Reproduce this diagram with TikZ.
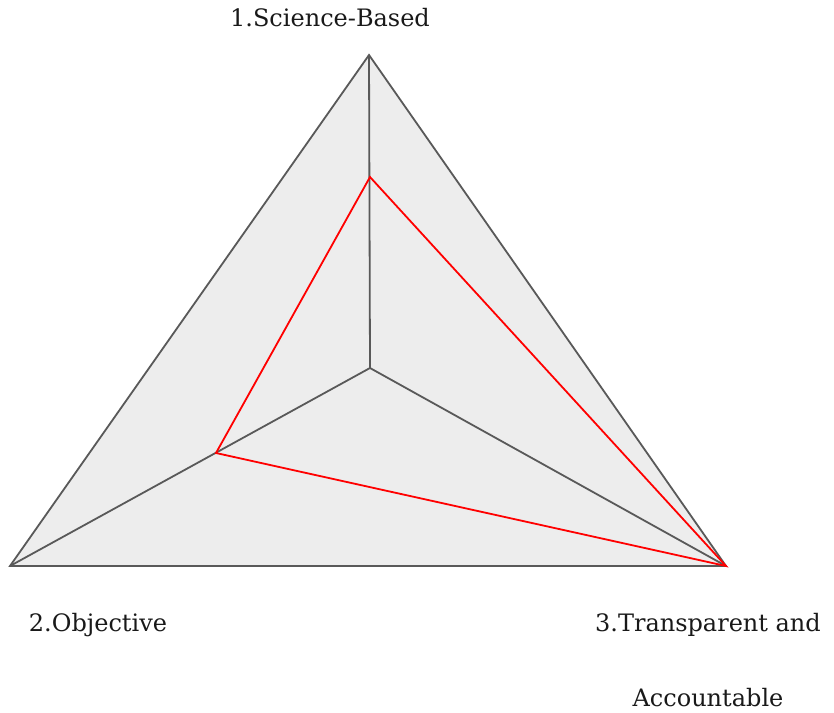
\documentclass[tikz,border=0pt]{standalone}
\usepackage{fontspec}
\setmainfont{DejaVu Serif}
\begin{document}
\begin{tikzpicture}[x=1pt, y=-1pt, line width=1.8pt]

    \tikzset{axisline/.style={%
      draw=black!65,%
      line join=miter}%
    };
    \tikzset{scoreline/.style={%
      draw=red,%
      line join=miter}%
    };
    \tikzset{axislabel/.style={%
      font=\fontsize{24}{28}\selectfont,%
      text=black!90,%
      inner sep=0pt}%
    };

    \useasboundingbox (0, 0) rectangle (834, 712);

    %%%%%%%%%%%%%%%
    % axes        %
    %%%%%%%%%%%%%%%
    \path (370, 368) coordinate (ctr);
    \path (369, 55) coordinate (sci);
    \path (10, 566) coordinate (obj);
    \path (726, 566) coordinate (tra);

    \path[axisline, fill=black!7] (sci) -- (obj) -- (tra) -- cycle;
    \draw[axisline] (ctr) -- (sci);
    \draw[axisline] (ctr) -- (obj);
    \draw[axisline] (ctr) -- (tra);

    %%%%%%%%%%%%%%%
    % scores      %
    %%%%%%%%%%%%%%%
    \path (370, 177) coordinate (scisc);
    \path (216, 453) coordinate (objsc);
    \path (726, 566) coordinate (trasc);

    \draw[scoreline] (scisc) -- (objsc) -- (trasc) -- cycle;

    %%%%%%%%%%%%%%%
    % labels      %
    %%%%%%%%%%%%%%%
    \path (330, 18) node [axislabel] (scilab) {1.Science-Based};
    \path (98, 625) node [axislabel] (objlab) {2.Objective};
    \path (708, 625) node [axislabel] (tralab) {3.Transparent and};
    \path (708, 698) node [axislabel] (acclab) {Accountable};

  \end{tikzpicture}
\end{document}
